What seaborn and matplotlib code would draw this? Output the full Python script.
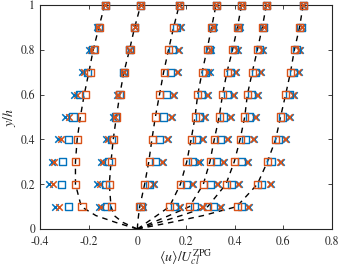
import numpy as np
import pandas as pd
import matplotlib
matplotlib.use("Agg")
import matplotlib.pyplot as plt
import seaborn as sns

# ---------------- data ----------------
y_levels = [0.1, 0.2, 0.3, 0.4, 0.5, 0.6, 0.7, 0.8, 0.9, 1.0]

orange_sq = [
    [-0.227, -0.252, -0.252, -0.244, -0.231, -0.214, -0.193, -0.177, -0.155, -0.132],
    [-0.107, -0.114, -0.107, -0.098, -0.084, -0.071, -0.053, -0.030, -0.010, 0.014],
    [0.011, 0.031, 0.049, 0.061, 0.075, 0.093, 0.110, 0.129, 0.150, 0.173],
    [0.133, 0.178, 0.204, 0.222, 0.238, 0.249, 0.267, 0.287, 0.306, 0.324],
    [0.215, 0.272, 0.299, 0.317, 0.337, 0.351, 0.369, 0.392, 0.412, 0.429],
    [0.290, 0.365, 0.399, 0.423, 0.442, 0.453, 0.473, 0.494, 0.514, 0.531],
    [0.410, 0.494, 0.535, 0.569, 0.589, 0.610, 0.630, 0.646, 0.667, 0.682],
]
blue_sq = [
    [-0.282, -0.312, -0.306, -0.284, -0.264, -0.238, -0.203, -0.182, -0.158, -0.132],
    [-0.128, -0.132, -0.118, -0.105, -0.090, -0.075, -0.055, -0.031, -0.010, 0.014],
    [0.015, 0.049, 0.075, 0.093, 0.106, 0.120, 0.137, 0.143, 0.160, 0.173],
    [0.151, 0.201, 0.225, 0.242, 0.256, 0.263, 0.280, 0.295, 0.310, 0.324],
    [0.235, 0.300, 0.326, 0.341, 0.355, 0.371, 0.383, 0.400, 0.416, 0.429],
    [0.314, 0.385, 0.426, 0.446, 0.460, 0.469, 0.485, 0.503, 0.518, 0.531],
    [0.426, 0.510, 0.549, 0.580, 0.598, 0.624, 0.640, 0.655, 0.672, 0.682],
]
orange_x = [
    [-0.320, -0.346, -0.343, -0.312, -0.282, -0.248, -0.218, -0.190, -0.160, -0.132],
    [-0.150, -0.155, -0.140, -0.120, -0.093, -0.080, -0.056, -0.032, -0.010, 0.014],
    [0.022, 0.065, 0.100, 0.122, 0.138, 0.145, 0.162, 0.168, 0.175, 0.173],
    [0.170, 0.225, 0.250, 0.264, 0.275, 0.285, 0.292, 0.300, 0.312, 0.324],
    [0.264, 0.326, 0.352, 0.368, 0.380, 0.394, 0.400, 0.410, 0.418, 0.429],
    [0.339, 0.414, 0.450, 0.475, 0.482, 0.492, 0.502, 0.512, 0.520, 0.531],
    [0.455, 0.543, 0.584, 0.605, 0.622, 0.640, 0.660, 0.662, 0.675, 0.682],
]
blue_x = [
    [-0.339, -0.363, -0.352, -0.325, -0.295, -0.261, -0.228, -0.197, -0.165, -0.132],
    [-0.159, -0.166, -0.148, -0.128, -0.098, -0.084, -0.058, -0.033, -0.011, 0.014],
    [0.025, 0.070, 0.106, 0.127, 0.143, 0.150, 0.167, 0.173, 0.178, 0.173],
    [0.174, 0.229, 0.256, 0.269, 0.280, 0.290, 0.297, 0.303, 0.314, 0.324],
    [0.269, 0.331, 0.358, 0.374, 0.385, 0.399, 0.405, 0.414, 0.420, 0.429],
    [0.344, 0.419, 0.456, 0.480, 0.487, 0.497, 0.507, 0.516, 0.522, 0.531],
    [0.460, 0.548, 0.589, 0.610, 0.627, 0.644, 0.664, 0.666, 0.677, 0.682],
]

# dashed model profiles
line_y = [0.0, 0.03, 0.06, 0.1, 0.2, 0.3, 0.4, 0.5, 0.6, 0.7, 0.8, 0.9, 1.0]
line_u = [
    [0.0, -0.09, -0.17, -0.230, -0.254, -0.254, -0.247, -0.234, -0.218, -0.199, -0.181, -0.158, -0.134],
    [0.0, -0.06, -0.095, -0.108, -0.115, -0.108, -0.099, -0.086, -0.072, -0.055, -0.032, -0.011, 0.014],
    [0.0, 0.002, 0.005, 0.010, 0.030, 0.047, 0.060, 0.074, 0.091, 0.108, 0.128, 0.149, 0.172],
    [0.0, 0.04, 0.08, 0.132, 0.177, 0.203, 0.221, 0.237, 0.248, 0.266, 0.286, 0.305, 0.323],
    [0.0, 0.065, 0.13, 0.214, 0.271, 0.298, 0.316, 0.336, 0.350, 0.368, 0.391, 0.411, 0.428],
    [0.0, 0.09, 0.18, 0.289, 0.364, 0.398, 0.422, 0.441, 0.452, 0.472, 0.493, 0.513, 0.530],
    [0.0, 0.14, 0.27, 0.408, 0.493, 0.534, 0.568, 0.588, 0.609, 0.629, 0.645, 0.666, 0.681],
]

x_ticks = [-0.4, -0.2, 0, 0.2, 0.4, 0.6, 0.8]
x_tick_labels = ["-0.4", "-0.2", "0", "0.2", "0.4", "0.6", "0.8"]
y_ticks = [0, 0.2, 0.4, 0.6, 0.8, 1.0]
y_tick_labels = ["0", "0.2", "0.4", "0.6", "0.8", "1"]

BLUE = "#0072BD"
ORANGE = "#D95319"

# ---------------- tables ----------------
def long_table(series):
    rows = []
    for p, vals in enumerate(series):
        for yv, uv in zip(y_levels, vals):
            rows.append({"profile": p, "u": uv, "y": yv})
    return pd.DataFrame(rows)

line_rows = []
for p, vals in enumerate(line_u):
    for yv, uv in zip(line_y, vals):
        line_rows.append({"profile": p, "u": uv, "y": yv})
df_line = pd.DataFrame(line_rows)

# ---------------- plot ----------------
sns.set_style("white")
plt.rcParams["font.family"] = ["STIXGeneral", "DejaVu Serif"]
plt.rcParams["mathtext.fontset"] = "stix"
plt.rcParams["axes.unicode_minus"] = False

fig = plt.figure(figsize=(3.41, 2.66), dpi=100)
ax = fig.add_axes([0.117, 0.139, 0.857, 0.842])

sns.lineplot(data=df_line, x="u", y="y", units="profile", estimator=None,
             sort=False, color="black", linestyle=(0, (4, 3.5)), linewidth=1.0,
             ax=ax, legend=False, zorder=2)

sx = 22
ssq = 26
sns.scatterplot(data=long_table(blue_x), x="u", y="y", marker="x", color=BLUE,
                s=sx, linewidth=1.1, ax=ax, legend=False, zorder=3, clip_on=False)
sns.scatterplot(data=long_table(orange_x), x="u", y="y", marker="x", color=ORANGE,
                s=sx, linewidth=1.1, ax=ax, legend=False, zorder=3, clip_on=False)
sns.scatterplot(data=long_table(blue_sq), x="u", y="y", marker="s", fc="none",
                ec=BLUE, s=ssq, linewidth=1.0, ax=ax, legend=False, zorder=4,
                clip_on=False)
sns.scatterplot(data=long_table(orange_sq), x="u", y="y", marker="s", fc="none",
                ec=ORANGE, s=ssq, linewidth=1.0, ax=ax, legend=False, zorder=5,
                clip_on=False)

ax.set_xlim(-0.4, 0.8)
ax.set_ylim(0, 1)
ax.set_xticks(x_ticks)
ax.set_xticklabels(x_tick_labels)
ax.set_yticks(y_ticks)
ax.set_yticklabels(y_tick_labels)
ax.tick_params(direction="in", length=3, width=0.6, labelsize=8.5,
               top=True, right=True, bottom=True, left=True)
ax.tick_params(axis="x", pad=5.5)
ax.tick_params(axis="y", pad=3.5)
for s in ax.spines.values():
    s.set_visible(True)
    s.set_color("#262626")
    s.set_linewidth(0.8)

ax.set_xlabel(r"$\langle u\rangle/U_{cl}^{\mathrm{ZPG}}$", fontsize=10, labelpad=-1)
ax.set_ylabel(r"$y/h$", fontsize=10, labelpad=2)

fig.savefig("out.png", dpi=100)
